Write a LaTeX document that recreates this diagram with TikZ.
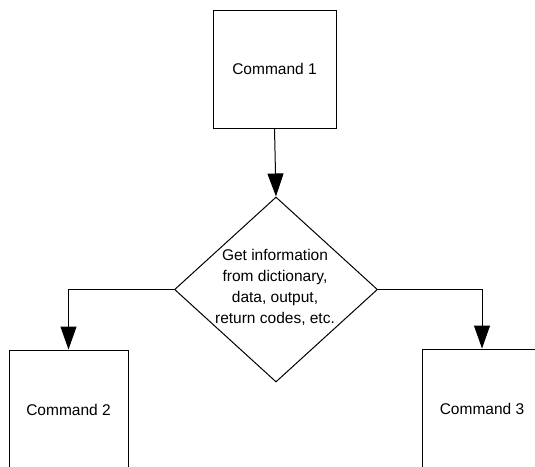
\documentclass[tikz,border=0pt]{standalone}
\usepackage{fontspec}
\setmainfont{Liberation Sans}
\usetikzlibrary{shapes.geometric,arrows.meta}
\begin{document}
\begin{tikzpicture}[x=1pt,y=-1pt,
  cmdbox/.style={draw=black,line width=1pt,rectangle,inner sep=0pt,font=\fontsize{15.5}{21}\selectfont},
  decision/.style={draw=black,line width=1pt,diamond,inner sep=0pt,minimum width=203pt,minimum height=185pt},
  txt/.style={align=center,inner sep=0pt,font=\fontsize{15.5}{21}\selectfont},
  conn/.style={line width=1pt,-{Triangle[width=16pt,length=23pt]}}]
\useasboundingbox (0,0) rectangle (535,466);
\fill[white] (0,0) rectangle (535,466);
\clip (0,0) rectangle (535,466);
\node[cmdbox,minimum width=123pt,minimum height=118pt] (c1) at (274.5,69) {Command 1};
\node[decision] (d) at (276,289.5) {};
\node[txt] (dt) at (275,287) {Get information\\from dictionary,\\data, output,\\return codes, etc.};
\node[cmdbox,minimum width=119pt,minimum height=120pt] (c2) at (68.5,410) {Command 2};
\node[cmdbox,minimum width=120pt,minimum height=120pt] (c3) at (482,409) {Command 3};
\draw[conn] (c1.south) -- (d.north);
\draw[conn] (d.west) -| (c2.north);
\draw[conn] (d.east) -| (c3.north);
\end{tikzpicture}
\end{document}
